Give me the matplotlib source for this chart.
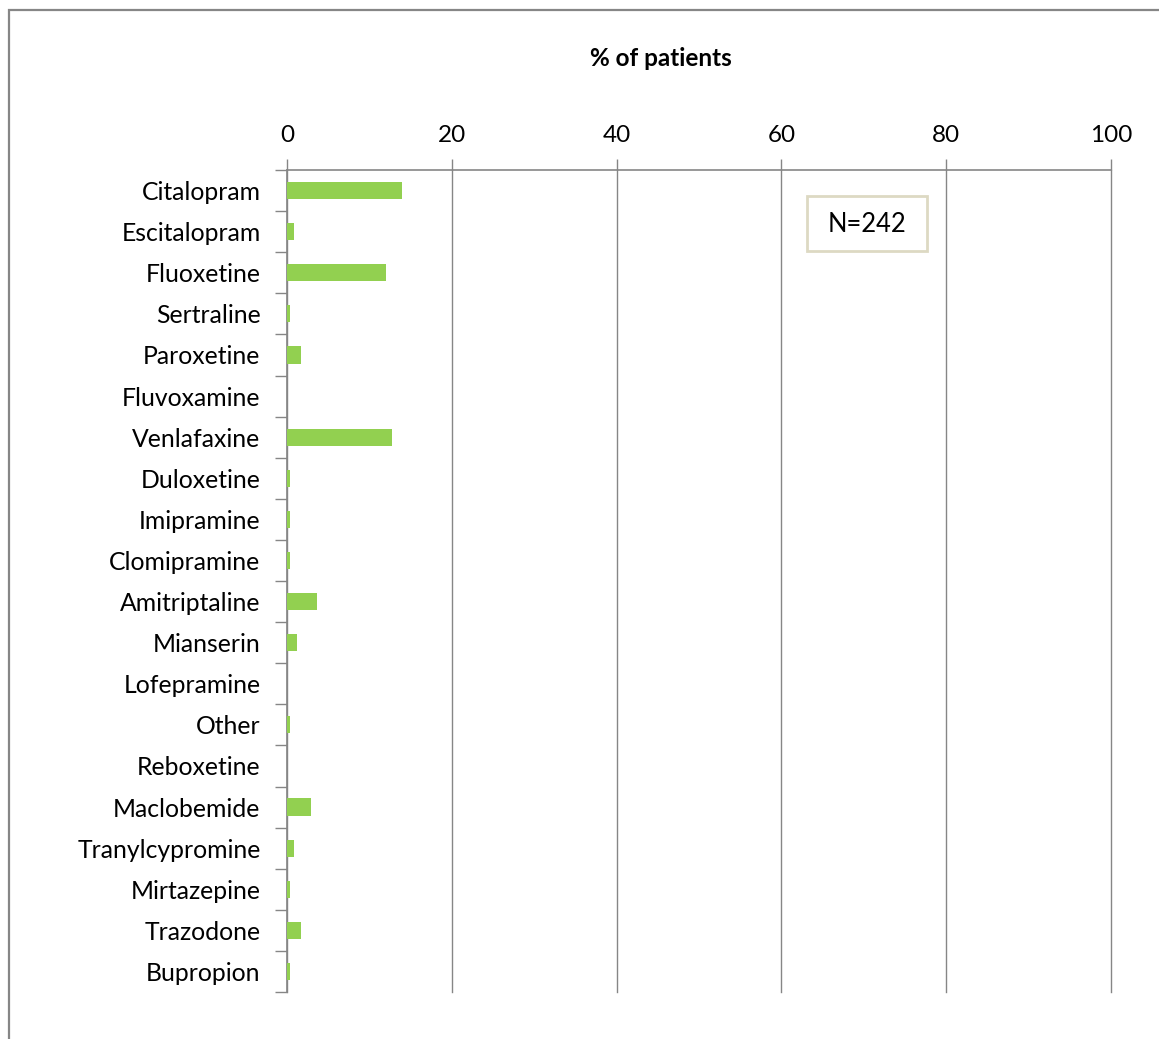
import matplotlib
matplotlib.use("Agg")
import matplotlib.pyplot as plt
from matplotlib.patches import Rectangle
import numpy as np

plt.rcParams['font.family'] = ['Lato', 'DejaVu Sans']

drugs = ["Citalopram", "Escitalopram", "Fluoxetine", "Sertraline", "Paroxetine",
         "Fluvoxamine", "Venlafaxine", "Duloxetine", "Imipramine", "Clomipramine",
         "Amitriptaline", "Mianserin", "Lofepramine", "Other", "Reboxetine",
         "Maclobemide", "Tranylcypromine", "Mirtazepine", "Trazodone", "Bupropion"]
pct_patients = [14.0, 0.8, 12.0, 0.4, 1.7,
                0.0, 12.8, 0.4, 0.4, 0.4,
                3.7, 1.2, 0.0, 0.4, 0.0,
                2.9, 0.8, 0.4, 1.7, 0.4]
x_ticks = [0, 20, 40, 60, 80, 100]
n_label = "N=242"

W, H = 1159, 1039
fig = plt.figure(figsize=(W / 100, H / 100), dpi=100)
fig.patch.set_facecolor("white")

# outer chart-area border (runs off the right and bottom edges)
fig.patches.append(Rectangle((9 / W, -0.1), 1.2, 1 - 10 / H + 0.1,
                             transform=fig.transFigure, fill=False,
                             edgecolor="#868686", linewidth=1.6))

ax = fig.add_axes([287 / W, 1 - 992 / H, (1111 - 287) / W, (992 - 170) / H])
y = np.arange(len(drugs))
ax.barh(y, pct_patients, height=0.42, color="#92D050", zorder=3)

ax.set_xlim(0, 100)
ax.set_ylim(len(drugs) - 0.5, -0.5)

grid_c = "#868686"
ax.xaxis.tick_top()
ax.set_xticks(x_ticks)
ax.set_xticklabels([str(t) for t in x_ticks], fontsize=17.5)
ax.tick_params(axis="x", direction="out", length=8, width=1, color=grid_c,
               pad=9, labelcolor="black")
ax.xaxis.grid(True, color=grid_c, linewidth=1, zorder=0)
for gl in ax.get_xgridlines():
    gl.set_clip_on(False)

ax.set_yticks(np.arange(len(drugs) + 1) - 0.5, minor=False)
ax.set_yticklabels([])
ax.set_yticks(y, minor=True)
ax.set_yticklabels(drugs, minor=True, fontsize=17.8)
ax.tick_params(axis="y", which="major", direction="out", length=9, width=1, color=grid_c)
ax.tick_params(axis="y", which="minor", length=0, pad=19, labelcolor="black")

for s in ["right", "bottom"]:
    ax.spines[s].set_visible(False)
for s in ["left", "top"]:
    ax.spines[s].set_color(grid_c)
    ax.spines[s].set_linewidth(1.2)

fig.text(661 / W, 1 - 58 / H, "% of patients", ha="center", va="center",
         fontsize=17.5, fontweight="bold")

# sample-size box
fig.patches.append(Rectangle((807 / W, 1 - 251 / H), 120 / W, 55 / H,
                             transform=fig.transFigure, facecolor="white",
                             edgecolor="#DDD9C3", linewidth=2, zorder=5))
fig.text(867 / W, 1 - 224 / H, n_label, ha="center", va="center", fontsize=18.4,
         zorder=6)

fig.savefig("out.png", dpi=100, facecolor="white")
